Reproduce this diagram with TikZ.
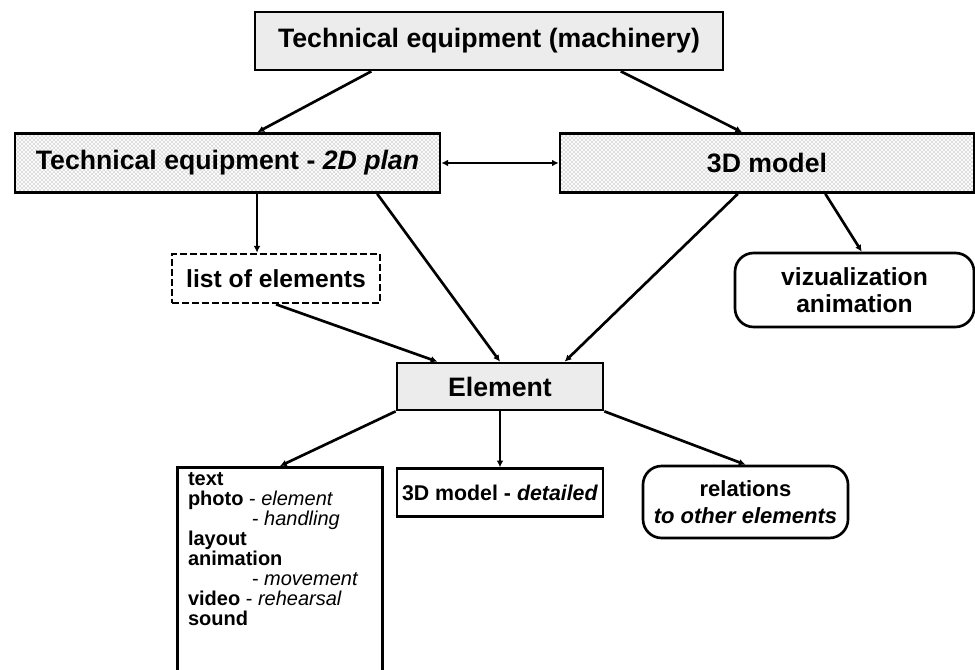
\documentclass[tikz,border=0pt]{standalone}
\usepackage{fontspec}
\setmainfont{Liberation Sans}
\usetikzlibrary{calc}
\usetikzlibrary{positioning}
\usetikzlibrary{arrows.meta}
\usetikzlibrary{patterns}
\tikzset{box/.style={draw,
                    line width=2pt,
                    inner sep=2pt,
                    align=center,
                    font=\fontsize{20}{24}\selectfont\bfseries
                    },
        graybox/.style={box,
                    fill=gray!15
                    },
        hatchbox/.style={box,
                    preaction={fill=white},
                    preaction={pattern=north west lines, pattern color=gray!30},
                    pattern=north east lines,
                    pattern color=gray!30
                    },
        dashbox/.style={box,
                    dash pattern=on 5pt off 2.5pt,
                    font=\fontsize{18.5}{22}\selectfont\bfseries
                    },
        roundbox/.style={box,
                    rounded corners=14pt,
                    font=\fontsize{16.5}{20}\selectfont\bfseries
                    },
        mediabox/.style={draw,
                    line width=2pt,
                    inner xsep=8pt,
                    inner ysep=4pt,
                    font=\fontsize{15}{15}\selectfont\bfseries
                    },
        link/.style={line width=2pt, -{Latex[length=5pt,width=5pt]}},
}

\begin{document}
\begin{tikzpicture}
    [x=0.75pt,y=-0.75pt]
    \clip (0,0) rectangle (975,670);

    % TOP LEVEL
    \node[graybox, minimum width=351pt, minimum height=43.5pt] (top) at (489,41) {Technical equipment (machinery)};

    \node[hatchbox, minimum width=318.75pt, minimum height=44.25pt] (plan) at (227.5,163) {Technical equipment - \textit{2D plan}};

    \node[hatchbox, minimum width=310.5pt, minimum height=44.25pt] (model) at (767,163) {3D model};

    \node[dashbox, minimum width=156pt, minimum height=36.75pt] (list) at (276,278.5) {list of elements};

    \node[roundbox, font=\fontsize{18.5}{20}\selectfont\bfseries, minimum width=179.25pt, minimum height=55.5pt] (viz) at (854.5,290) {vizualization\\animation};

    % ELEMENT
    \node[graybox, minimum width=154.5pt, minimum height=35.25pt] (elem) at (500,386.5) {Element};

    \node[box, font=\fontsize{16}{20}\selectfont\bfseries, minimum width=154.5pt, minimum height=36pt, below=42pt of elem] (detailed) {3D model - \textit{detailed}};

    \node[roundbox, minimum width=153.75pt, minimum height=54pt] (rel) at (745.5,502) {relations\\\textit{to other elements}};

    \node[mediabox, anchor=north west] (media) at (176,466) {%
        \begin{minipage}[t][175pt][t]{138pt}\raggedright
        text\\
        photo \textmd{- \textit{element}}\\
        \hspace*{48pt}\textmd{- \textit{handling}}\\
        layout\\
        animation\\
        \hspace*{48pt}\textmd{- \textit{movement}}\\
        video \textmd{- \textit{rehearsal}}\\
        sound
        \end{minipage}};

    \coordinate (listin) at ($(list.north west)!0.41!(list.north east)$);

    \draw[link] ($(top.south west)!0.25!(top.south east)$) -- ($(plan.north west)!0.57!(plan.north east)$);
    \draw[link] ($(top.south west)!0.78!(top.south east)$) -- ($(model.north west)!0.44!(model.north east)$);
    \draw[line width=2pt, {Latex[length=5pt,width=5pt]}-{Latex[length=5pt,width=5pt]}] (plan.east) -- (model.west);
    \draw[link] (plan.south -| listin) -- (listin);
    \draw[link] ($(plan.south west)!0.85!(plan.south east)$) -- (elem.north);
    \draw[link] ($(model.south west)!0.43!(model.south east)$) -- ($(elem.north west)!0.81!(elem.north east)$);
    \draw[link] ($(model.south west)!0.64!(model.south east)$) -- ($(viz.north west)!0.53!(viz.north east)$);
    \draw[link] (list.south) -- ($(elem.north west)!0.2!(elem.north east)$);
    \draw[link] (elem.south west) -- (media.north);
    \draw[link] (elem.south) -- (detailed.north);
    \draw[link] (elem.south east) -- (rel.north);

\end{tikzpicture}
\end{document}
